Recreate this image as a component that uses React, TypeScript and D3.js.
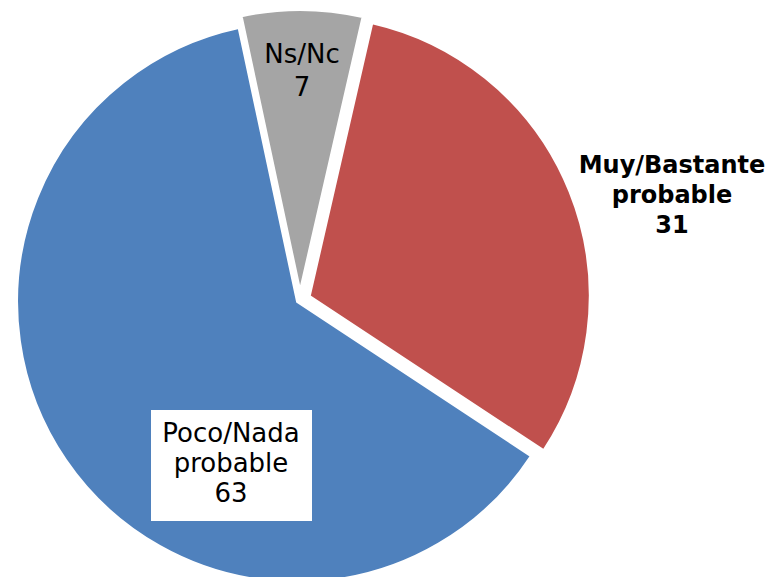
import React from "react";
import * as d3 from "d3";

const categories = ["Muy/Bastante probable", "Poco/Nada probable", "Ns/Nc"];
const values = [31, 63, 7];
const colors = ["#C0504D", "#4F81BD", "#A5A5A5"];
const labelLines = [["Muy/Bastante", "probable", "31"], ["Poco/Nada", "probable", "63"], ["Ns/Nc", "7"]];

const W = 769, H = 577;
const CX = 300, CY = 300, R = 280;
const explode = [10.5, 3.5, 10];
const startDeg = 12.9;

export default function App() {
  const pie = d3.pie<number>().sort(null).startAngle((startDeg * Math.PI) / 180).endAngle((startDeg * Math.PI) / 180 + 2 * Math.PI);
  const arcs = pie(values);
  const arc = d3.arc<d3.PieArcDatum<number>>().innerRadius(0).outerRadius(R);

  const labelLayout = [
    { x: 672, y: 173, bold: true, size: 24, lh: 30, box: false },
    { x: 231, y: 442, bold: false, size: 26, lh: 30, box: true },
    { x: 302, y: 63, bold: false, size: 26, lh: 33, box: false },
  ];

  return (
    <svg width={W} height={H} style={{ position: "absolute", left: 0, top: 0 }} fontFamily="'DejaVu Sans', Verdana, sans-serif">
      <rect width={W} height={H} fill="#fff" />
      {arcs.map((a, i) => {
        const mid = (a.startAngle + a.endAngle) / 2;
        const dx = Math.sin(mid) * explode[i];
        const dy = -Math.cos(mid) * explode[i];
        return (
          <path key={categories[i]} d={arc(a) || ""} transform={`translate(${CX + dx},${CY + dy})`} fill={colors[i]} stroke="#fff" strokeWidth={2} />
        );
      })}
      {labelLayout.map((l, i) => (
        <g key={"lab" + i}>
          {l.box && <rect x={151} y={410} width={161} height={111} fill="#fff" />}
          <text textAnchor="middle" fontSize={l.size} fontWeight={l.bold ? "bold" : "normal"} fill="#000">
            {labelLines[i].map((t, j) => (
              <tspan key={j} x={l.x} y={l.y + j * l.lh}>{t}</tspan>
            ))}
          </text>
        </g>
      ))}
    </svg>
  );
}
